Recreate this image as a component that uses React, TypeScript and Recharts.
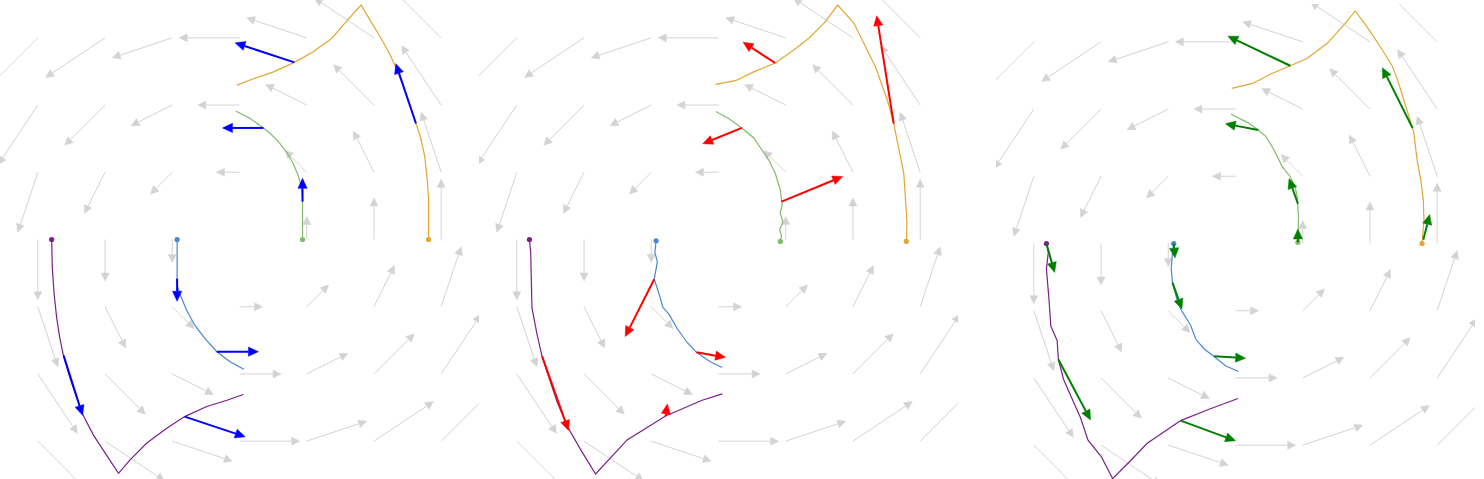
// Three rotation-field panels: gray quiver grid, four trajectories, velocity arrows.
import { ScatterChart, Scatter, XAxis, YAxis, ReferenceLine } from "recharts";

type Pt = [number, number];
type Seg = [number, number, number, number];

// quiver grid (same in all panels), field is a plain rotation
const GRID = [-3.2, -2.133, -1.067, 0, 1.067, 2.133, 3.2];
const FIELD_SCALE = 0.276;

// panel 1
const P1_PURPLE: Pt[] = [
  [-2.98, 0], [-2.97, -0.46], [-2.94, -0.88], [-2.9, -1.25], [-2.85, -1.57],
  [-2.79, -1.86], [-2.69, -2.2], [-2.58, -2.52], [-2.48, -2.79], [-2.32, -3.1],
  [-2.11, -3.42], [-1.92, -3.71], [-1.74, -3.5], [-1.47, -3.23], [-1.16, -3.0],
  [-0.87, -2.81], [-0.52, -2.65], [-0.2, -2.55], [0.06, -2.46],
];
const P1_BLUE: Pt[] = [
  [-0.99, 0], [-0.99, -0.72], [-0.94, -0.88], [-0.84, -1.12], [-0.71, -1.36],
  [-0.55, -1.57], [-0.36, -1.78], [-0.15, -1.94], [0.07, -2.06],
];
const P1_GREEN: Pt[] = [
  [1.0, 0], [1.0, 0.63], [0.98, 0.84], [0.93, 1.02], [0.85, 1.21], [0.74, 1.4],
  [0.61, 1.56], [0.48, 1.69], [0.38, 1.77], [0.17, 1.92], [-0.06, 2.04],
];
const P1_ORANGE: Pt[] = [
  [3.0, 0], [3.0, 0.63], [2.98, 0.94], [2.94, 1.31], [2.87, 1.63], [2.8, 1.84],
  [2.68, 2.21], [2.52, 2.64], [2.39, 2.93], [2.23, 3.22], [2.07, 3.48],
  [1.93, 3.72], [1.81, 3.59], [1.67, 3.43], [1.46, 3.19], [1.17, 2.98],
  [0.87, 2.81], [0.54, 2.66], [0.22, 2.55], [-0.04, 2.45],
];
const P1_ARROWS: Seg[] = [
  [0.87, 2.81, -0.07, 3.12],
  [2.8, 1.84, 2.48, 2.79],
  [0.38, 1.77, -0.27, 1.77],
  [1.0, 0.6, 1.0, 0.97],
  [-0.99, -0.62, -0.99, -0.98],
  [-0.36, -1.78, 0.3, -1.78],
  [-2.79, -1.84, -2.49, -2.79],
  [-0.87, -2.81, 0.09, -3.13],
];

// panel 2
const P2_PURPLE: Pt[] = [
  [-3.0, 0], [-2.98, -0.2], [-2.97, -0.63], [-2.96, -1.08], [-2.88, -1.5],
  [-2.8, -1.85], [-2.69, -2.19], [-2.56, -2.58], [-2.39, -2.98], [-2.19, -3.33],
  [-1.95, -3.72], [-1.45, -3.18], [-0.84, -2.8], [-0.26, -2.55], [0.06, -2.45],
];
const P2_BLUE: Pt[] = [
  [-0.99, -0.02], [-1.01, -0.2], [-0.97, -0.36], [-1.02, -0.63], [-0.95, -0.84],
  [-0.88, -1.08], [-0.79, -1.18], [-0.65, -1.42], [-0.5, -1.63], [-0.35, -1.79],
  [-0.13, -1.94], [0.06, -2.03],
];
const P2_GREEN: Pt[] = [
  [0.98, -0.03], [1.0, 0.06], [0.97, 0.15], [1.02, 0.28], [0.98, 0.42],
  [1.01, 0.55], [0.98, 0.79], [0.9, 1.05], [0.8, 1.26], [0.69, 1.42],
  [0.56, 1.61], [0.37, 1.77], [0.16, 1.92], [-0.04, 2.03],
];
const P2_ORANGE: Pt[] = [
  [2.98, -0.03], [2.99, 0.28], [2.94, 1.05], [2.78, 1.84], [2.68, 2.21],
  [2.49, 2.74], [2.15, 3.43], [1.89, 3.72], [1.7, 3.46], [1.43, 3.19],
  [1.2, 3.01], [0.9, 2.8], [0.56, 2.66], [0.27, 2.52], [-0.05, 2.46],
];
const P2_ARROWS: Seg[] = [
  [2.78, 1.84, 2.51, 3.55],
  [0.9, 2.8, 0.39, 3.13],
  [0.37, 1.77, -0.25, 1.52],
  [1.0, 0.6, 1.97, 1.0],
  [-1.02, -0.63, -1.48, -1.54],
  [-0.35, -1.79, 0.11, -1.87],
  [-2.8, -1.85, -2.38, -3.03],
  [-0.84, -2.8, -0.81, -2.61],
];

// panel 3
const P3_PURPLE: Pt[] = [
  [-3.0, 0], [-2.97, -0.14], [-3.0, -0.4], [-2.96, -0.88], [-2.93, -1.31],
  [-2.83, -1.54], [-2.81, -1.84], [-2.73, -2.15], [-2.59, -2.47], [-2.46, -2.76],
  [-2.34, -3.12], [-2.13, -3.38], [-1.95, -3.73], [-1.69, -3.47], [-1.4, -3.17],
  [-0.87, -2.81], [-0.42, -2.63], [0.04, -2.46],
];
const P3_BLUE: Pt[] = [
  [-0.98, 0], [-1.0, -0.14], [-1.02, -0.4], [-1.0, -0.62], [-0.93, -0.88],
  [-0.87, -1.04], [-0.71, -1.3], [-0.63, -1.52], [-0.5, -1.67], [-0.32, -1.81],
  [-0.16, -1.94], [0.05, -2.03],
];
const P3_GREEN: Pt[] = [
  [0.99, 0.02], [1.0, 0.43], [0.98, 0.74], [0.95, 0.88], [0.87, 1.06],
  [0.74, 1.22], [0.69, 1.33], [0.58, 1.54], [0.48, 1.7], [0.36, 1.8],
  [0.21, 1.91], [-0.07, 2.05],
];
const P3_ORANGE: Pt[] = [
  [2.96, 0], [2.99, 0.37], [2.98, 0.69], [2.94, 1.01], [2.88, 1.33], [2.83, 1.75],
  [2.81, 1.83], [2.67, 2.28], [2.57, 2.6], [2.49, 2.81], [2.33, 3.07],
  [2.12, 3.39], [1.9, 3.69], [1.72, 3.47], [1.46, 3.18], [1.14, 2.94],
  [0.87, 2.82], [0.56, 2.69], [0.27, 2.54], [-0.06, 2.46],
];
const P3_ARROWS: Seg[] = [
  [0.87, 2.82, -0.12, 3.29],
  [2.81, 1.83, 2.33, 2.79],
  [0.36, 1.8, -0.16, 1.9],
  [0.99, 0.63, 0.85, 1.03],
  [0.99, 0.02, 0.99, 0.23],
  [2.98, 0.06, 3.08, 0.46],
  [-3.0, 0, -2.87, -0.46],
  [-0.98, 0, -0.96, -0.23],
  [-1.0, -0.62, -0.85, -1.04],
  [-0.34, -1.79, 0.16, -1.82],
  [-2.81, -1.84, -2.3, -2.8],
  [-0.87, -2.81, 0.0, -3.13],
];

const COLORS = {
  purple: "#7b1f8a",
  blue: "#4a86d6",
  green: "#7fbc6c",
  orange: "#e2a636",
  gray: "#d3d3d3",
};

const W = 479;
const H = 479;
const DOMAIN: [number, number] = [-3.8, 3.8];

const toData = (pts: Pt[]) => pts.map(([x, y]) => ({ x, y }));

// gray quiver arrows: tail on the grid, tip along the rotation
const fieldSegments: Seg[] = [];
GRID.forEach((gx) =>
  GRID.forEach((gy) => {
    if (gx === 0 && gy === 0) return;
    fieldSegments.push([gx, gy, gx - FIELD_SCALE * gy, gy + FIELD_SCALE * gx]);
  })
);

function arrowShape(
  color: string,
  width: number,
  headLen: number,
  headHalf: number,
  overhang: number
) {
  return (p: any) => {
    const { x1, y1, x2, y2 } = p;
    const dx = x2 - x1;
    const dy = y2 - y1;
    const len = Math.hypot(dx, dy);
    if (!len) return <g />;
    const ux = dx / len;
    const uy = dy / len;
    const tx = x2 + ux * overhang;
    const ty = y2 + uy * overhang;
    const hl = Math.min(headLen, len + overhang);
    const bx = tx - ux * hl;
    const by = ty - uy * hl;
    const pts = `${tx},${ty} ${bx - uy * headHalf},${by + ux * headHalf} ${bx + uy * headHalf},${by - ux * headHalf}`;
    return (
      <g>
        <line x1={x1} y1={y1} x2={bx} y2={by} stroke={color} strokeWidth={width} />
        <polygon points={pts} fill={color} stroke={color} strokeWidth={0.5} strokeLinejoin="miter" />
      </g>
    );
  };
}

const grayArrow = arrowShape(COLORS.gray, 1, 8, 4, 4.5);
const noDot = () => <g />;

interface PanelProps {
  left: number;
  top: number;
  purple: Pt[];
  blue: Pt[];
  green: Pt[];
  orange: Pt[];
  arrows: Seg[];
  arrowColor: string;
}

function Panel({ left, top, purple, blue, green, orange, arrows, arrowColor }: PanelProps) {
  const velArrow = arrowShape(arrowColor, 2, 10, 4.6, 0);
  const tracks: [Pt[], string][] = [
    [purple, COLORS.purple],
    [blue, COLORS.blue],
    [green, COLORS.green],
    [orange, COLORS.orange],
  ];
  return (
    <div style={{ position: "absolute", left, top }}>
      <ScatterChart width={W} height={H} margin={{ top: 0, right: 0, bottom: 0, left: 0 }}>
        <XAxis type="number" dataKey="x" domain={DOMAIN} allowDataOverflow hide />
        <YAxis type="number" dataKey="y" domain={DOMAIN} allowDataOverflow hide />
        {fieldSegments.map(([a, b, c, d], i) => (
          <ReferenceLine
            key={`f${i}`}
            segment={[{ x: a, y: b }, { x: c, y: d }]}
            ifOverflow="visible"
            shape={grayArrow}
            zIndex={-50}
          />
        ))}
        {tracks.map(([pts, color], i) => (
          <Scatter
            key={`t${i}`}
            data={toData(pts)}
            line={{ stroke: color, strokeWidth: 1.2 }}
            lineType="joint"
            shape={noDot}
            isAnimationActive={false}
          />
        ))}
        {tracks.map(([pts, color], i) => (
          <Scatter
            key={`s${i}`}
            data={toData(pts.slice(0, 1))}
            shape={(p: any) => <circle cx={p.cx} cy={p.cy} r={2.6} fill={color} />}
            isAnimationActive={false}
          />
        ))}
        {arrows.map(([a, b, c, d], i) => (
          <ReferenceLine
            key={`a${i}`}
            segment={[{ x: a, y: b }, { x: c, y: d }]}
            ifOverflow="visible"
            shape={velArrow}
            zIndex={900}
          />
        ))}
      </ScatterChart>
    </div>
  );
}

export default function App() {
  return (
    <div
      style={{
        position: "absolute",
        left: 0,
        top: 0,
        width: 1484,
        height: 479,
        overflow: "hidden",
        background: "#fff",
      }}
    >
      <Panel left={0} top={0} purple={P1_PURPLE} blue={P1_BLUE} green={P1_GREEN}
        orange={P1_ORANGE} arrows={P1_ARROWS} arrowColor="#0000ff" />
      <Panel left={478.5} top={0} purple={P2_PURPLE} blue={P2_BLUE} green={P2_GREEN}
        orange={P2_ORANGE} arrows={P2_ARROWS} arrowColor="#ff0000" />
      <Panel left={995.5} top={4} purple={P3_PURPLE} blue={P3_BLUE} green={P3_GREEN}
        orange={P3_ORANGE} arrows={P3_ARROWS} arrowColor="#008000" />
    </div>
  );
}
